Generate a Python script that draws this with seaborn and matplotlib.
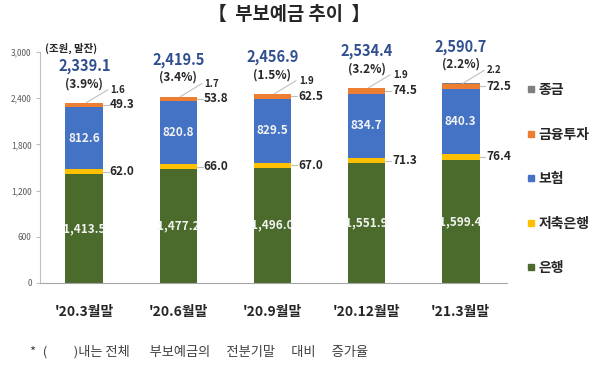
import numpy as np
import matplotlib
matplotlib.use("Agg")
import matplotlib.pyplot as plt
import seaborn as sns
from matplotlib.lines import Line2D

# data (조원, 말잔)
periods = ["'20.3월말", "'20.6월말", "'20.9월말", "'20.12월말", "'21.3월말"]
bank = [1413.5, 1477.2, 1496.0, 1551.9, 1599.4]
savings = [62.0, 66.0, 67.0, 71.3, 76.4]
insurance = [812.6, 820.8, 829.5, 834.7, 840.3]
invest = [49.3, 53.8, 62.5, 74.5, 72.5]
merchant = [1.6, 1.7, 1.9, 1.9, 2.2]
totals = [2339.1, 2419.5, 2456.9, 2534.4, 2590.7]
growth = [3.9, 3.4, 1.5, 3.2, 2.2]
yticks = [0, 600, 1200, 1800, 2400, 3000]

names = ['은행', '저축은행', '보험', '금융투자', '종금']
colors = ['#4a6b2b', '#ffc000', '#4472c4', '#ed7d31', '#7f7f7f']

sns.set_style("white")
plt.rcParams['font.family'] = ['Noto Sans CJK KR', 'DejaVu Sans']

fig = plt.figure(figsize=(6, 3.66), dpi=100)
ax = fig.add_axes([0.0667, 0.227, 0.778, 0.631])

layers = [bank, savings, insurance, invest, merchant]
cum = np.cumsum(layers, axis=0)

# stacked bars: draw cumulative totals from the top layer down
for k in reversed(range(len(layers))):
    sns.barplot(x=periods, y=cum[k], color=colors[k], width=0.4,
                saturation=1, linewidth=0, ax=ax)

for i in range(len(periods)):
    # inside labels
    ax.text(i, bank[i] / 2, f"{bank[i]:,.1f}", ha='center', va='center',
            color='#f2f2f2', fontsize=8.5, fontweight='bold')
    ax.text(i, cum[1][i] + insurance[i] / 2, f"{insurance[i]:,.1f}", ha='center',
            va='center', color='#f2f2f2', fontsize=8.5, fontweight='bold')
    # side labels with short leader
    for k in (1, 3):
        ymid = cum[k][i] - layers[k][i] / 2
        ax.plot([i + 0.2, i + 0.26], [ymid, ymid], color='#bfbfbf', lw=0.8)
        ax.text(i + 0.27, ymid, f"{layers[k][i]:.1f}", ha='left', va='center',
                fontsize=8.5, fontweight='bold', color='#262626')
    # 종금 leader
    t = totals[i]
    ax.plot([i + 0.02, i + 0.25], [t, t + 170], color='#bfbfbf', lw=0.8)
    ax.text(i + 0.28, t + 170, f"{merchant[i]:.1f}", ha='left', va='center',
            fontsize=7, fontweight='bold', color='#262626')
    # growth and totals
    ax.text(i, t + 250, f"({growth[i]}%)", ha='center', va='center',
            fontsize=8.5, fontweight='bold', color='#262626')
    ax.text(i, t + 480, f"{t:,.1f}", ha='center', va='center',
            fontsize=10.5, fontweight='bold', color='#2f4f8f')

ax.set_xlim(-0.47, 4.49)
ax.set_ylim(0, 3000)
ax.set_yticks(yticks)
ax.set_yticklabels([f"{v:,}" for v in yticks], fontsize=6, color='#595959')
ax.tick_params(axis='y', length=3, color='#bfbfbf', pad=3, left=True)
ax.tick_params(axis='x', length=0, pad=16, labelsize=10)
for lab in ax.get_xticklabels():
    lab.set_fontweight('bold')
ax.set_xlabel('')
ax.set_ylabel('')
sns.despine(ax=ax)
ax.spines['left'].set_color('#bfbfbf')
ax.spines['bottom'].set_color('#a6a6a6')

handles = [Line2D([], [], marker='s', linestyle='', markersize=5, color=c)
           for c in colors]
fig.legend(handles[::-1], names[::-1], loc='upper left',
           bbox_to_anchor=(518 / 600, 1 - 76 / 366), frameon=False,
           labelspacing=2.2, handletextpad=0.2, handlelength=0.8,
           borderpad=0, prop={'weight': 'bold', 'size': 10})

fig.text(289 / 600, 1 - 14 / 366, '【  부보예금 추이  】', ha='center', va='center',
         fontsize=13.5, fontweight='bold')
fig.text(45 / 600, 1 - 48 / 366, '(조원, 말잔)', ha='left', va='center',
         fontsize=7.5, fontweight='bold')
fig.text(30 / 600, 1 - 352 / 366,
         '*\u2002(\u3000\u3000)내는 전체\u3000\u2002부보예금의\u3000 전분기말\u3000 대비\u3000 증가율',
         ha='left', va='center', fontsize=9.5, color='#404040')

fig.savefig('out.png', dpi=100)
